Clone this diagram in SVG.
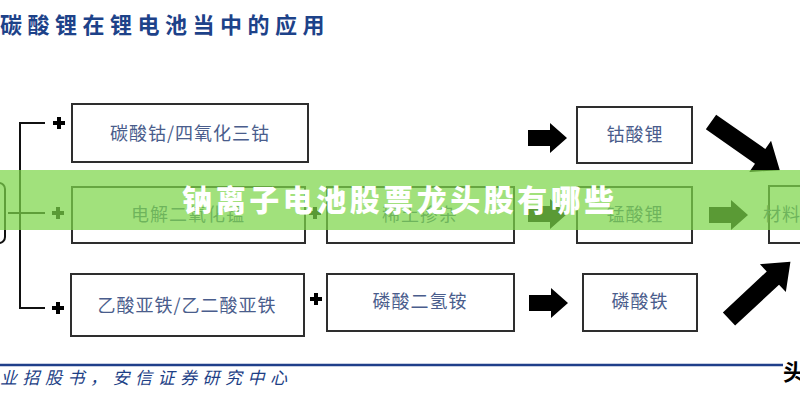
<svg xmlns="http://www.w3.org/2000/svg" width="800" height="400" viewBox="0 0 800 400">
<defs>
<style>
.box{fill:#fff;stroke:#2e2e2e;stroke-width:2}
.lbl{font-family:"Noto Sans CJK SC","Noto Sans",sans-serif;font-size:18px;fill:#4a5d8c;text-anchor:middle;letter-spacing:1px}
.ln{fill:none;stroke:#111;stroke-width:2}
.plus{fill:none;stroke:#000;stroke-width:4}
.arr{fill:#000}
</style>
<path id="plus" d="M-6,0 H6 M0,-6 V6"/>
<path id="barr" d="M0,-8 H22 V-15 L39,0 L22,15 V8 H0 Z"/>
<path id="darr" d="M0,-9 H60 V-19 L84,0 L60,19 V9 H0 Z"/>
</defs>
<rect width="800" height="400" fill="#fff"/>
<text x="0" y="33" font-family="Noto Sans CJK SC,sans-serif" font-size="22" font-weight="700" fill="#1d4289" letter-spacing="5.5">碳酸锂在锂电池当中的应用</text>

<g id="connectors">
<rect x="-12" y="183" width="17" height="60" rx="6" class="ln"/>
<path class="ln" d="M45,123 H20 V308 H45 M8,213 H45"/>
<use href="#plus" x="59" y="123" class="plus"/>
<use href="#plus" x="58" y="213" class="plus"/>
<use href="#plus" x="58" y="308" class="plus"/>
<use href="#plus" x="315" y="213" class="plus"/>
<use href="#plus" x="316" y="299" class="plus"/>
<use href="#barr" x="528" y="138" class="arr"/>
<use href="#barr" x="528" y="214" class="arr"/>
<use href="#barr" x="529" y="303" class="arr"/>
<use href="#barr" x="709" y="215" class="arr"/>
<use href="#darr" transform="translate(711,122) rotate(35)" class="arr"/>
<use href="#darr" transform="translate(729,319) rotate(-43)" class="arr"/>
</g>

<g id="n1"><rect class="box" x="72" y="104" width="236" height="58"/><text class="lbl" x="190" y="140">碳酸钴/四氧化三钴</text></g>
<g id="n2"><rect class="box" x="577" y="107" width="115" height="56"/><text class="lbl" x="635" y="141" letter-spacing="2">钴酸锂</text></g>
<g id="n3"><rect class="box" x="72" y="187" width="233" height="56"/><text class="lbl" x="188" y="221">电解二氧化锰</text></g>
<g id="n4"><rect class="box" x="327" y="187" width="187" height="56"/><text class="lbl" x="420" y="221">稀土掺杂</text></g>
<g id="n5"><rect class="box" x="577" y="187" width="115" height="56"/><text class="lbl" x="635" y="221" letter-spacing="2">锰酸锂</text></g>
<g id="n6"><rect class="box" x="769" y="186" width="60" height="57"/><text class="lbl" x="782" y="221" text-anchor="start">材料</text></g>
<g id="n7"><rect class="box" x="71" y="274" width="233" height="62"/><text class="lbl" x="187" y="312">乙酸亚铁/乙二酸亚铁</text></g>
<g id="n8"><rect class="box" x="327" y="274" width="187" height="57"/><text class="lbl" x="420" y="308">磷酸二氢铵</text></g>
<g id="n9"><rect class="box" x="583" y="274" width="114" height="57"/><text class="lbl" x="640" y="308" letter-spacing="2">磷酸铁</text></g>

<line x1="0" y1="365" x2="783" y2="365" stroke="#1f3f8a" stroke-width="2.5"/>
<text x="0" y="384" font-family="Noto Sans CJK SC,sans-serif" font-size="17" font-style="italic" fill="#1d3f86" letter-spacing="5.5">业招股书，安信证券研究中心</text>
<text x="783" y="380" font-family="Noto Sans CJK SC,sans-serif" font-size="22" font-weight="700" fill="#000">头</text>

<rect x="0" y="170" width="800" height="60" fill="#7dd64a" opacity="0.72"/>
<text x="400" y="211" text-anchor="middle" font-family="Noto Sans CJK SC,sans-serif" font-size="30" font-weight="900" fill="#fff" letter-spacing="3.5">钠离子电池股票龙头股有哪些</text>
</svg>
